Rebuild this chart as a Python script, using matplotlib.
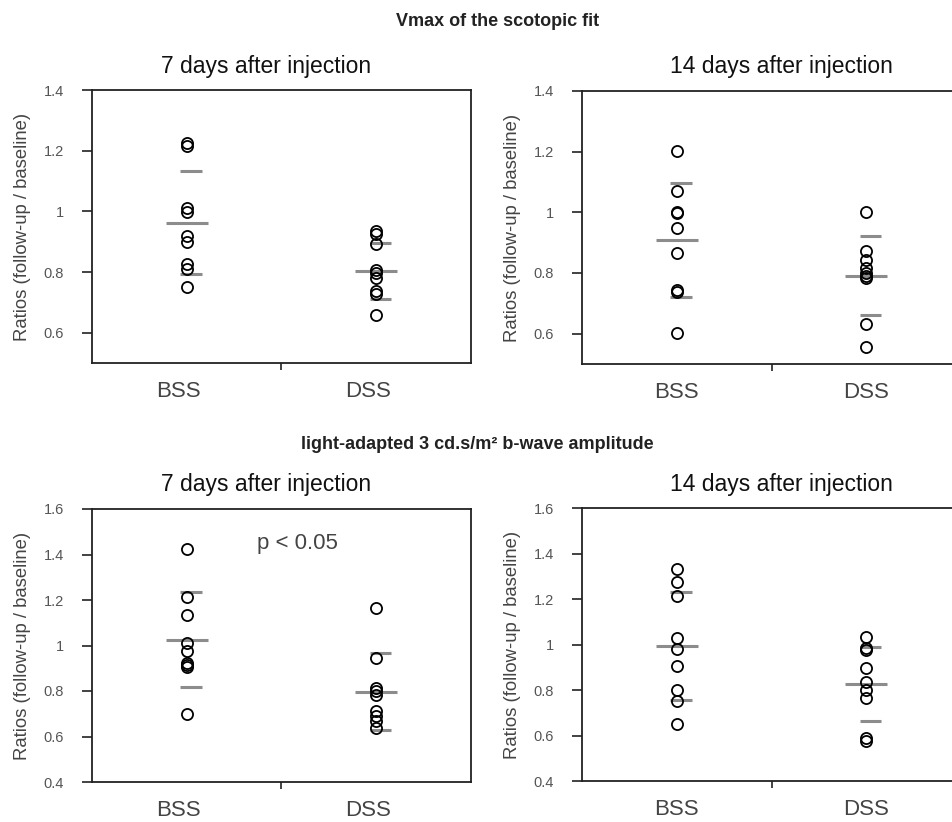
import matplotlib
matplotlib.use("Agg")
import matplotlib.pyplot as plt
import matplotlib.transforms as mtransforms

plt.rcParams["font.family"] = ["Liberation Sans", "DejaVu Sans"]

# values (ratios follow-up / baseline)
groups = ["BSS", "DSS"]

vmax_7d_bss = [1.225, 1.215, 1.01, 0.997, 0.92, 0.90, 0.828, 0.81, 0.752]
vmax_7d_dss = [0.935, 0.925, 0.891, 0.807, 0.796, 0.781, 0.739, 0.728, 0.658]
vmax_14d_bss = [1.201, 1.069, 1.001, 0.998, 0.948, 0.867, 0.745, 0.736, 0.602]
vmax_14d_dss = [1.0, 0.873, 0.842, 0.815, 0.80, 0.79, 0.785, 0.632, 0.557]

bwave_7d_bss = [1.423, 1.211, 1.132, 1.01, 0.978, 0.922, 0.915, 0.907, 0.701]
bwave_7d_dss = [1.165, 0.946, 0.813, 0.798, 0.784, 0.71, 0.688, 0.666, 0.637]
bwave_14d_bss = [1.330, 1.274, 1.213, 1.029, 0.981, 0.907, 0.802, 0.75, 0.652]
bwave_14d_dss = [1.033, 0.985, 0.975, 0.897, 0.835, 0.799, 0.765, 0.589, 0.577]

# group means and standard deviations (grey bars)
vmax_7d_mean = [0.962, 0.804]
vmax_7d_sd = [0.170, 0.093]
vmax_14d_mean = [0.909, 0.791]
vmax_14d_sd = [0.189, 0.131]
bwave_7d_mean = [1.025, 0.797]
bwave_7d_sd = [0.209, 0.168]
bwave_14d_mean = [0.994, 0.826]
bwave_14d_sd = [0.238, 0.164]

vmax_yticks = [0.6, 0.8, 1.0, 1.2, 1.4]
bwave_yticks = [0.4, 0.6, 0.8, 1.0, 1.2, 1.4, 1.6]

W, H = 953, 822
fig = plt.figure(figsize=(W / 100, H / 100), dpi=100)

GREY = "#8c8c8c"


def px_axes(left, top, right, bottom):
    return fig.add_axes([left / W, 1 - bottom / H, (right - left) / W, (bottom - top) / H])


def tick_fmt(v):
    return "1" if abs(v - 1) < 1e-9 else f"{v:.1f}"


def draw_panel(ax, bss, dss, means, sds, ylim, yticks, label_shift=0):
    for i, vals in enumerate([bss, dss]):
        x = i + 1
        ax.plot([x] * len(vals), vals, "o", mfc="none", mec="black", ms=8, mew=1.3, zorder=3)
        ax.hlines(means[i], x - 0.11, x + 0.11, color=GREY, lw=2.2, zorder=2)
        ax.hlines([means[i] + sds[i], means[i] - sds[i]], x - 0.035, x + 0.08,
                  color=GREY, lw=2.2, zorder=2)
    ax.set_xlim(0.5, 2.5)
    ax.set_ylim(*ylim)
    ax.set_yticks(yticks)
    ax.set_yticklabels([tick_fmt(v) for v in yticks])
    ax.set_xticks([1, 2])
    ax.set_xticklabels(groups)
    ax.set_xticks([1.5], minor=True)
    ax.tick_params(axis="x", which="major", length=0, pad=13, labelsize=16, labelcolor="#444444")
    ax.tick_params(axis="x", which="minor", length=5, width=1.2, direction="out", color="#222222")
    ax.tick_params(axis="y", length=7, width=1.2, direction="out", pad=13,
                   labelsize=10.5, labelcolor="#555555", color="#222222")
    if label_shift:
        off = mtransforms.ScaledTranslation(label_shift / 100, 0, fig.dpi_scale_trans)
        for lab in ax.get_xticklabels():
            lab.set_transform(lab.get_transform() + off)
    for s in ax.spines.values():
        s.set_linewidth(1.3)
        s.set_color("#222222")
    ax.set_ylabel("Ratios (follow-up / baseline)", fontsize=13.3, color="#444444", labelpad=9)


ax1 = px_axes(92, 90, 471, 363)
draw_panel(ax1, vmax_7d_bss, vmax_7d_dss, vmax_7d_mean, vmax_7d_sd, (0.5, 1.4), vmax_yticks,
           label_shift=-8)
ax2 = px_axes(582, 91, 961, 364)
draw_panel(ax2, vmax_14d_bss, vmax_14d_dss, vmax_14d_mean, vmax_14d_sd, (0.5, 1.4), vmax_yticks)
ax3 = px_axes(92, 509, 471, 782)
draw_panel(ax3, bwave_7d_bss, bwave_7d_dss, bwave_7d_mean, bwave_7d_sd, (0.4, 1.6), bwave_yticks,
           label_shift=-8)
ax4 = px_axes(582, 508, 961, 781)
draw_panel(ax4, bwave_14d_bss, bwave_14d_dss, bwave_14d_mean, bwave_14d_sd, (0.4, 1.6), bwave_yticks)

ax3.text(297 / W, 1 - 543 / H, "p < 0.05", transform=fig.transFigure, ha="center", va="center",
         fontsize=16, color="#444444")

fig.text(498 / W, 1 - 21 / H, "Vmax of the scotopic fit", ha="center", va="center",
         fontsize=13, fontweight="bold", color="#222222")
fig.text(477 / W, 1 - 444 / H, "light-adapted 3 cd.s/m² b-wave amplitude", ha="center", va="center",
         fontsize=13, fontweight="bold", color="#222222")
for x, y, t in [(266, 66, "7 days after injection"), (781, 66, "14 days after injection"),
                (266, 484, "7 days after injection"), (781, 484, "14 days after injection")]:
    fig.text(x / W, 1 - y / H, t, ha="center", va="center", fontsize=16.5, color="#111111")

fig.savefig("out.png", dpi=100)
